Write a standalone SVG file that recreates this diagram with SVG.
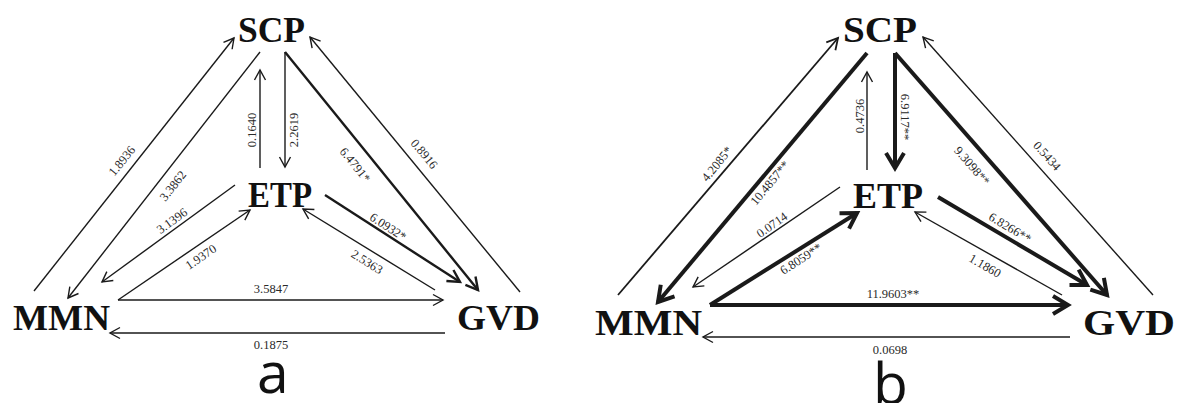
<svg xmlns="http://www.w3.org/2000/svg" width="1179" height="403" viewBox="0 0 1179 403">
<style>
.node{font-family:"Liberation Serif","Times New Roman",serif;font-weight:bold;font-size:36px;fill:#111;}
.lbl{font-family:"Liberation Serif","Times New Roman",serif;font-size:12.5px;fill:#2a2a2a;text-anchor:middle;dominant-baseline:central;}
.cap{font-family:"Open Sans","DejaVu Sans",sans-serif;font-size:57px;fill:#111;}
line{stroke:#1a1a1a;fill:none;}
.t{stroke-width:1.4;marker-end:url(#mT);}
.m{stroke-width:1.8;marker-end:url(#mM);}
.k{stroke-width:2.4;marker-end:url(#mK);}
.h{stroke-width:4;marker-end:url(#mH);}
</style>
<defs>
<marker id="mT" markerUnits="userSpaceOnUse" markerWidth="30" markerHeight="30" refX="0" refY="0" orient="auto" style="overflow:visible"><path d="M-10,-5.5 L0,0 L-10,5.5" fill="none" stroke="#1a1a1a" stroke-width="1.4"/></marker>
<marker id="mM" markerUnits="userSpaceOnUse" markerWidth="30" markerHeight="30" refX="0" refY="0" orient="auto" style="overflow:visible"><path d="M-11,-6 L0,0 L-11,6" fill="none" stroke="#1a1a1a" stroke-width="1.8"/></marker>
<marker id="mK" markerUnits="userSpaceOnUse" markerWidth="30" markerHeight="30" refX="0" refY="0" orient="auto" style="overflow:visible"><path d="M-12,-6.5 L0,0 L-12,6.5" fill="none" stroke="#1a1a1a" stroke-width="2.4"/></marker>
<marker id="mH" markerUnits="userSpaceOnUse" markerWidth="40" markerHeight="40" refX="0" refY="0" orient="auto" style="overflow:visible"><path d="M-15,-9 L0,0 L-15,9" fill="none" stroke="#1a1a1a" stroke-width="4"/></marker>
</defs>

<g id="connectors-a">
<line class="t" x1="34" y1="291" x2="234" y2="38"/>
<line class="t" x1="260" y1="52" x2="68" y2="298"/>
<line class="t" x1="235" y1="185" x2="102" y2="282"/>
<line class="t" x1="118" y1="300" x2="250" y2="210"/>
<line class="t" x1="118" y1="300" x2="443" y2="300"/>
<line class="t" x1="445" y1="333" x2="110" y2="333"/>
<line class="t" x1="260" y1="168" x2="260" y2="70"/>
<line class="t" x1="285" y1="52" x2="285" y2="167"/>
<line class="k" x1="285" y1="52" x2="478" y2="290"/>
<line class="t" x1="520" y1="292" x2="310" y2="37"/>
<line class="k" x1="325" y1="195" x2="460" y2="282"/>
<line class="t" x1="435" y1="290" x2="303" y2="209"/>
<text class="lbl" transform="translate(122,161) rotate(-51)">1.8936</text>
<text class="lbl" transform="translate(173,186) rotate(-52)">3.3862</text>
<text class="lbl" transform="translate(172,221) rotate(-36)">3.1396</text>
<text class="lbl" transform="translate(201,257) rotate(-34)">1.9370</text>
<text class="lbl" transform="translate(271,289)">3.5847</text>
<text class="lbl" transform="translate(271,345)">0.1875</text>
<text class="lbl" transform="translate(252,130) rotate(-90)">0.1640</text>
<text class="lbl" transform="translate(294,130) rotate(-90)">2.2619</text>
<text class="lbl" transform="translate(355,165) rotate(51)">6.4791*</text>
<text class="lbl" transform="translate(424,154) rotate(50)">0.8916</text>
<text class="lbl" transform="translate(388,227) rotate(33)">6.0932*</text>
<text class="lbl" transform="translate(367,262) rotate(32)">2.5363</text>
</g>

<g id="connectors-b">
<line class="m" x1="618" y1="295" x2="838" y2="38"/>
<line class="h" x1="867" y1="53" x2="658" y2="302"/>
<line class="t" x1="840" y1="187" x2="693" y2="287"/>
<line class="h" x1="710" y1="305" x2="857" y2="213"/>
<line class="h" x1="710" y1="305" x2="1068" y2="305"/>
<line class="t" style="stroke-width:1.6" x1="1070" y1="337" x2="703" y2="337"/>
<line class="t" x1="867" y1="170" x2="867" y2="72"/>
<line class="h" x1="895" y1="53" x2="895" y2="168"/>
<line class="h" x1="895" y1="53" x2="1107" y2="295"/>
<line class="t" x1="1153" y1="295" x2="923" y2="37"/>
<line class="h" x1="938" y1="197" x2="1087" y2="285"/>
<line class="t" x1="1062" y1="295" x2="915" y2="212"/>
<text class="lbl" transform="translate(717,164) rotate(-51)">4.2085*</text>
<text class="lbl" transform="translate(770,183) rotate(-50)">10.4857**</text>
<text class="lbl" transform="translate(772,225) rotate(-35)">0.0714</text>
<text class="lbl" transform="translate(801,259) rotate(-33)">6.8059**</text>
<text class="lbl" transform="translate(893,294)">11.9603**</text>
<text class="lbl" transform="translate(890,350)">0.0698</text>
<text class="lbl" transform="translate(860,116) rotate(-90)">0.4736</text>
<text class="lbl" transform="translate(905,117) rotate(90)">6.9117**</text>
<text class="lbl" transform="translate(972,166) rotate(49)">9.3098**</text>
<text class="lbl" transform="translate(1047,156) rotate(48)">0.5434</text>
<text class="lbl" transform="translate(1010,228) rotate(31)">6.8266**</text>
<text class="lbl" transform="translate(985,266) rotate(30)">1.1860</text>
</g>

<g id="a-SCP"><text class="node" x="238" y="42" textLength="67" lengthAdjust="spacingAndGlyphs">SCP</text></g>
<g id="a-ETP"><text class="node" x="248" y="207" textLength="64" lengthAdjust="spacingAndGlyphs">ETP</text></g>
<g id="a-MMN"><text class="node" x="13" y="330" textLength="97" lengthAdjust="spacingAndGlyphs">MMN</text></g>
<g id="a-GVD"><text class="node" x="457" y="330" textLength="83" lengthAdjust="spacingAndGlyphs">GVD</text></g>
<g id="b-SCP"><text class="node" x="843" y="42" textLength="74" lengthAdjust="spacingAndGlyphs">SCP</text></g>
<g id="b-ETP"><text class="node" x="853" y="208" textLength="70" lengthAdjust="spacingAndGlyphs">ETP</text></g>
<g id="b-MMN"><text class="node" x="595" y="335" textLength="107" lengthAdjust="spacingAndGlyphs">MMN</text></g>
<g id="b-GVD"><text class="node" x="1083" y="335" textLength="92" lengthAdjust="spacingAndGlyphs">GVD</text></g>

<text class="cap" x="257" y="393">a</text>
<text class="cap" x="873" y="404">b</text>
</svg>
